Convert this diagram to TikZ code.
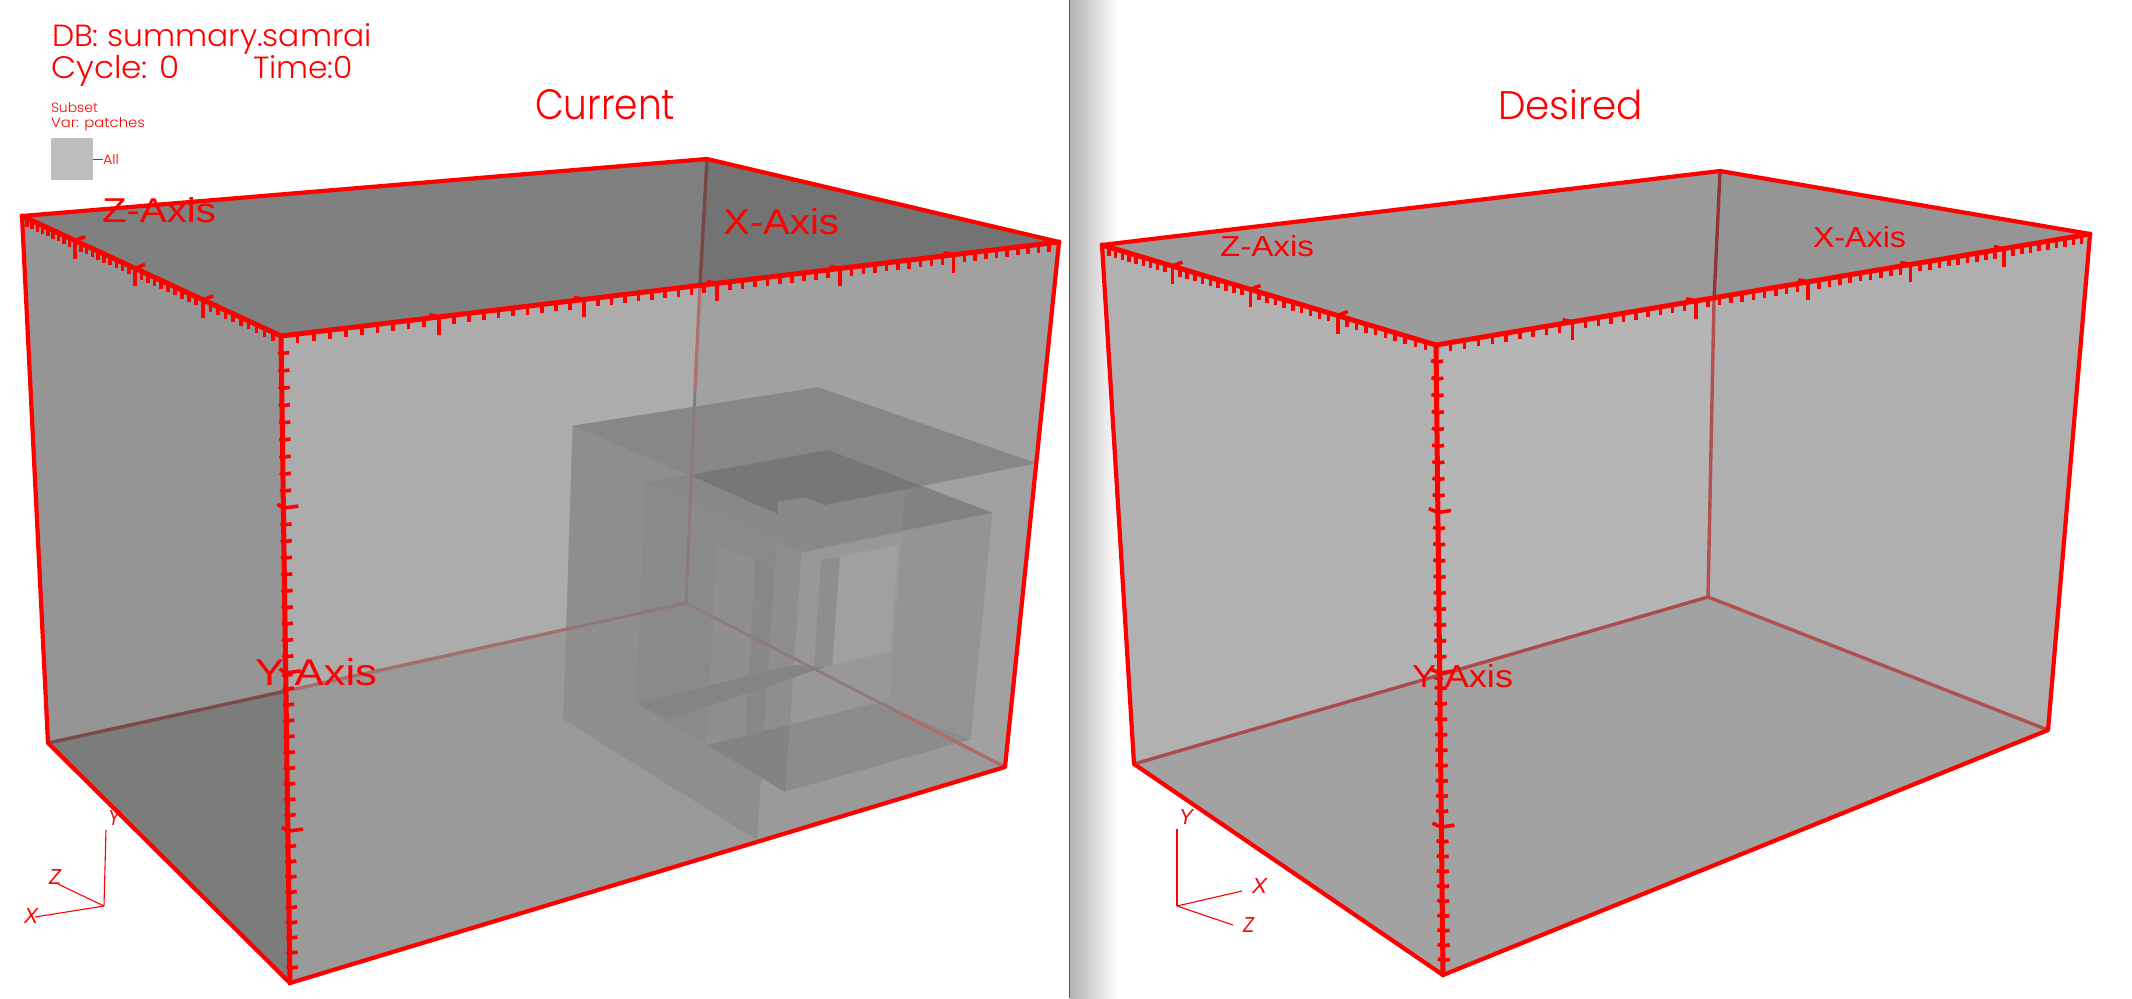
\documentclass[tikz,border=0pt]{standalone}
\usepackage{graphicx}
\usepackage{fontspec}
\usetikzlibrary{calc}
\setmainfont{Liberation Sans}
\newfontfamily\hdrfont{Poppins}[UprightFont=* Light]
\definecolor{vred}{HTML}{FF0000}
\tikzset{
  hexfill/.code={\definecolor{hf}{HTML}{#1}\pgfkeysalso{/tikz/fill=hf}},
  hexline/.code={\definecolor{hl}{HTML}{#1}\pgfkeysalso{/tikz/draw=hl}},
  txt/.style={anchor=base west,inner sep=0pt,outer sep=0pt,text=vred},
  edge/.style={draw=vred,line width=4.2pt,line cap=round,line join=round},
  axisline/.style={draw=vred,line width=5pt,line cap=round},
  tickst/.style={draw=vred,line width=3.6pt},
  triad/.style={draw=vred,line width=1.1pt},
  backl/.style={line width=3.4pt},
  faintl/.style={line width=2.8pt}
}
\newcommand\lbl[6]{\node[txt] (#1) at (#2,#3) {\resizebox{#4pt}{#5pt}{#6}};}
% down-hanging ticks: from, to, divisions, major every, perspective k, arm dx, arm dy
\newcommand\ticksdown[7]{%
  \pgfmathtruncatemacro\myN{#3-1}%
  \foreach \i in {1,...,\myN}{%
    \pgfmathsetmacro\myT{\i/#3}%
    \pgfmathsetmacro\myS{\myT/(\myT+#5*(1-\myT))}%
    \pgfmathtruncatemacro\myM{mod(\i,#4)}%
    \coordinate (p) at ($(#1)!\myS!(#2)$);
    \ifnum\myM=0
      \draw[tickst] (p) -- ++(0,18);
      \draw[tickst] (p) -- ++(#6,#7);
    \else
      \draw[tickst] (p) -- ++(0,8.5);
    \fi
  }%
}
% ticks across the Y axis: from, to, k, right, left, major right, major left
\newcommand\tickscross[7]{%
  \foreach \i in {1,...,39}{%
    \pgfmathsetmacro\myT{\i/40}%
    \pgfmathsetmacro\myS{\myT/(\myT+#3*(1-\myT))}%
    \pgfmathtruncatemacro\myM{mod(\i,10)}%
    \coordinate (p) at ($(#1)!\myS!(#2)$);
    \ifnum\myM=0
      \draw[tickst] ($(p)+(-#7,-4)$) -- (p) -- ($(p)+(#6,-2)$);
    \else
      \draw[tickst] ($(p)+(-#5,-1.5)$) -- (p) -- ($(p)+(#4,-1)$);
    \fi
  }%
}
\begin{document}
\begin{tikzpicture}[x=1pt,y=-1pt]
\useasboundingbox (0,0) rectangle (2132,998);
\fill[white] (0,0) rectangle (2132,998);
% divider
\shade[left color=black!30,middle color=black!7,right color=white] (1070,0) rectangle (1118,998);
\draw[black!65,line width=1.5pt] (1069.5,0) -- (1069.5,998);

% ---------- left box
\coordinate (la) at (22,216); \coordinate (lb) at (707,159); \coordinate (lc) at (1059,242); \coordinate (ld) at (281,336);
\coordinate (le) at (48,743); \coordinate (lf) at (290,983); \coordinate (lg) at (1005,767); \coordinate (lh) at (686,603);
\coordinate (lx) at (286,691); \coordinate (lm) at (700,285);
\fill[hexfill=808080] (la) -- (lb) -- (lm) -- (ld) -- cycle;
\fill[hexfill=737373] (lb) -- (lc) -- (lm) -- cycle;
\fill[hexfill=959595] (la) -- (ld) -- (lx) -- (le) -- cycle;
\fill[hexfill=7C7C7C] (le) -- (lx) -- (lf) -- cycle;
\fill[hexfill=ACACAC] (ld) -- (lm) -- (lh) -- (lx) -- cycle;
\fill[hexfill=A1A1A1] (lm) -- (lc) -- (lg) -- (lh) -- cycle;
\fill[hexfill=9A9A9A] (lx) -- (lh) -- (lg) -- (lf) -- cycle;

% inner boxes (coordinates taken at the scale of a close-up)
\begin{scope}[shift={(520,360)},x=.346pt,y=-.3333pt]
\fill[hexfill=8E8E8E] (152,197) -- (745,462) -- (685,1440) -- (125,1078) -- cycle;
\fill[hexfill=878787] (152,197) -- (862,82) -- (1493,310) -- (880,435) -- (822,412) -- (745,425) -- (745,462) -- cycle;
\fill[hexfill=8A8A8A] (362,368) -- (812,577) -- (765,1295) -- (335,1030) -- cycle;
\fill[hexfill=949494] (812,577) -- (1365,458) -- (1303,1138) -- (765,1295) -- cycle;
% inner panes
\fill[hexfill=8F8F8F] (570,555) -- (680,605) -- (650,1125) -- (540,1155) -- cycle;
\fill[hexfill=888888] (680,605) -- (742,550) -- (705,1112) -- (650,1125) -- cycle;
\fill[hexfill=8E8E8E] (742,550) -- (812,577) -- (780,1100) -- (705,1112) -- cycle;
\fill[hexfill=989898] (815,580) -- (1105,520) -- (1068,1020) -- (780,1100) -- cycle;
\fill[hexfill=8E8E8E] (870,600) -- (925,590) -- (903,915) -- (850,920) -- cycle;
\fill[hexfill=A0A0A0] (925,590) -- (1095,555) -- (1070,875) -- (903,915) -- cycle;
\fill[hexfill=848484] (335,1030) -- (790,915) -- (885,920) -- (430,1078) -- cycle;
\fill[hexfill=8C8C8C] (780,1095) -- (1020,1030) -- (1303,1138) -- (765,1295) -- cycle;
\fill[hexfill=838383] (543,1155) -- (780,1095) -- (765,1295) -- cycle;
% top of the middle box
\fill[hexfill=888888] (362,368) -- (890,270) -- (1365,458) -- (812,577) -- cycle;
\fill[hexfill=828282] (1115,362) -- (1365,458) -- (1105,510) -- cycle;
\fill[hexfill=777777] (490,345) -- (890,270) -- (1160,378) -- (880,435) -- (822,412) -- (745,425) -- (745,462) -- cycle;
\end{scope}

% back lines
\draw[backl,hexline=7A4545] (lb) -- (lm);
\draw[backl,hexline=AD7272] (lm) -- (695,390);
\draw[faintl,hexline=8C7A7A] (695,390) -- (lh);
\draw[backl,hexline=7C4A4A] (le) -- (lx);
\draw[backl,hexline=A56E6E] (lx) -- (572,628);
\draw[faintl,hexline=8F7878] (572,628) -- (lh);
\draw[faintl,hexline=907A7A] (lh) -- (900,713);
\draw[backl,hexline=B06A6A] (900,713) -- (lg);
% edges and axes
\draw[edge] (la) -- (lb) -- (lc) -- (lg) -- (lf) -- (le) -- (la) -- cycle;
\draw[axisline] (la) -- (ld) -- (lc);
\draw[axisline] (ld) -- (lf);
\ticksdown{la}{ld}{40}{10}{1.29}{10}{-4}
\ticksdown{ld}{lc}{60}{10}{.784}{-10}{-2}
\tickscross{ld}{lf}{.92}{8}{3}{15}{6}

% inner panel triad left
\coordinate (lto) at (104,906); \coordinate (lty) at (106,830); \coordinate (ltz) at (58,884); \coordinate (ltx) at (35,917);
\draw[triad] (lto) -- (lty); \draw[triad] (lto) -- (ltz); \draw[triad] (lto) -- (ltx);

% legend
\fill[hexfill=BEBEBE] (51,138) rectangle (93,180);
\coordinate (lgs) at (93,159); \coordinate (lge) at (103,159);
\draw[vred,line width=.8pt] (lgs) -- (lge);

% ---------- right box
\coordinate (ra) at (1102,245); \coordinate (rb) at (1720,171); \coordinate (rc) at (2090,234); \coordinate (rd) at (1436,345);
\coordinate (re) at (1134,764); \coordinate (rf) at (1443,975); \coordinate (rg) at (2048,730); \coordinate (rh) at (1708,597);
\coordinate (rx) at (1440,675); \coordinate (rm) at (1714,300);
\fill[hexfill=9B9B9B] (ra) -- (rb) -- (rm) -- (rd) -- cycle;
\fill[hexfill=959595] (rb) -- (rc) -- (rm) -- cycle;
\fill[hexfill=B1B1B1] (ra) -- (rd) -- (rx) -- (re) -- cycle;
\fill[hexfill=B5B5B5] (rd) -- (rm) -- (rh) -- (rx) -- cycle;
\fill[hexfill=AFAFAF] (rm) -- (rc) -- (rg) -- (rh) -- cycle;
\fill[hexfill=A2A2A2] (re) -- (rh) -- (rg) -- (rf) -- cycle;
\draw[backl,hexline=943535] (rb) -- (rm);
\draw[backl,hexline=B55050] (rm) -- (rh);
\draw[backl,hexline=AA4C4C] (re) -- (rh);
\draw[backl,hexline=B05050] (rh) -- (rg);
\draw[edge] (ra) -- (rb) -- (rc) -- (rg) -- (rf) -- (re) -- (ra) -- cycle;
\draw[axisline] (ra) -- (rd) -- (rc);
\draw[axisline] (rd) -- (rf);
\ticksdown{ra}{rd}{40}{10}{1.25}{10}{-4}
\ticksdown{rd}{rc}{60}{10}{.757}{-10}{-2}
\tickscross{rd}{rf}{.92}{7}{5}{13}{9}

\coordinate (rto) at (1177,906); \coordinate (rty) at (1177,829); \coordinate (rtx) at (1242,891); \coordinate (rtz) at (1233,925);
\draw[triad] (rto) -- (rty); \draw[triad] (rto) -- (rtx); \draw[triad] (rto) -- (rtz);

% ---------- texts
\lbl{tdb}{52}{47}{320}{23}{\hdrfont DB: summary.samrai}
\lbl{tcy}{51}{78}{129}{23}{\hdrfont Cycle: 0}
\lbl{tti}{253}{78}{100}{23}{\hdrfont Time:0}
\lbl{tcu}{535}{119}{140}{30}{\hdrfont Current}
\lbl{tde}{1498}{119}{145}{30}{\hdrfont Desired}
\lbl{tsu}{51}{112}{47}{10}{\hdrfont Subset}
\lbl{tva}{51}{127}{94}{10}{\hdrfont Var: patches}
\lbl{tal}{103}{164}{16}{10}{\hdrfont All}
\lbl{lzl}{102}{222}{114}{25}{Z-Axis}
\lbl{lxl}{723}{234}{116}{26}{X-Axis}
\lbl{lyl}{255}{685}{122}{27}{Y-Axis}
\lbl{rzl}{1220}{256}{94}{21}{Z-Axis}
\lbl{rxl}{1813}{247}{93}{21}{X-Axis}
\lbl{ryl}{1412}{687}{101}{23}{Y-Axis}
\lbl{lty1}{108}{825}{12}{15}{\itshape Y}
\lbl{ltz1}{49}{884}{12}{15}{\itshape Z}
\lbl{ltx1}{24}{923}{14}{15}{\itshape X}
\lbl{rty1}{1179}{824}{14}{15}{\itshape Y}
\lbl{rtx1}{1252}{893}{15}{15}{\itshape X}
\lbl{rtz1}{1243}{932}{11}{15}{\itshape Z}
\end{tikzpicture}
\end{document}
